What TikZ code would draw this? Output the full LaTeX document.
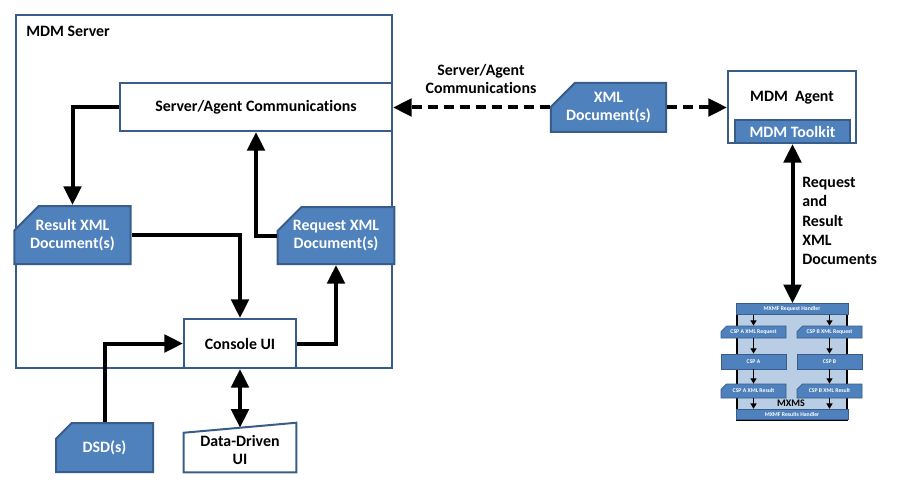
\documentclass[tikz,border=0pt]{standalone}
\usepackage{fontspec}
\setmainfont{Carlito}[Ligatures=NoCommon]
\usetikzlibrary{arrows.meta,shapes.misc}
\definecolor{docblue}{HTML}{4F81BD}
\definecolor{edgeblue}{HTML}{385D8A}
\definecolor{paleblue}{HTML}{B9CDE5}

\begin{document}
\begin{tikzpicture}[x=0.75pt, y=-0.75pt, font=\fontsize{11.9}{13.5}\selectfont\bfseries,
	boxnode/.style={draw=edgeblue, line width=1.5pt, fill=white, inner sep=0pt},
	docnode/.style={chamfered rectangle, chamfered rectangle corners=north west, chamfered rectangle xsep=12pt, chamfered rectangle ysep=6.5pt, draw=edgeblue, line width=1.5pt, fill=docblue, text=white, align=center, inner sep=0pt},
	mxbox/.style={draw=edgeblue, line width=0.6pt, fill=docblue, text=white, inner sep=0pt, font=\fontsize{4.3}{5}\selectfont\bfseries},
	mxdoc/.style={mxbox, chamfered rectangle, chamfered rectangle corners=north west, chamfered rectangle xsep=6pt, chamfered rectangle ysep=2.5pt},
	conn/.style={line width=3pt, -{Triangle[length=14pt,width=13pt]}},
	both/.style={line width=3pt, {Triangle[length=14pt,width=13pt]}-{Triangle[length=14pt,width=13pt]}},
	dashconn/.style={conn, dash pattern=on 7.5pt off 4.5pt},
	mxarrow/.style={line width=1.1pt, -{Triangle[length=4pt,width=4.5pt]}}]
	\useasboundingbox (0,0) rectangle (897,492);
	% server side
	\node (server) [boxnode, line width=2pt, minimum width=282pt, minimum height=264.75pt] at (204,191.5) {};
	\node (serverlbl) [anchor=west, inner sep=0pt] at (26,31) {MDM Server};
	\node (sac) [boxnode, minimum width=204pt, minimum height=36pt] at (256,107) {Server/Agent Communications};
	\node (result) [docnode, minimum width=84.75pt, minimum height=43.5pt] at (72.5,235) {Result XML\\Document(s)};
	\node (request) [docnode, minimum width=84pt, minimum height=42.75pt] at (336,235.5) {Request XML\\Document(s)};
	\node (console) [boxnode, minimum width=84pt, minimum height=36.75pt] at (240,343.5) {Console UI};
	\node (dsd) [docnode, minimum width=72.75pt, minimum height=36.75pt] at (104.5,447.5) {\raisebox{-3pt}{DSD(s)}};
	\node (ddui) [align=center, minimum width=84pt, minimum height=33pt, inner sep=0pt] at (240,450) {Data-Driven\\UI};
	\draw[edgeblue, line width=1.5pt] (ddui.south west) -- ([yshift=-3.75pt]ddui.north west) -- ([yshift=3.75pt]ddui.north east) -- (ddui.south east) -- cycle;
	% agent side
	\node (commlbl) [align=center] at (481,79) {Server/Agent\\Communications};
	\node (xmldoc) [docnode, minimum width=84.75pt, minimum height=36.75pt] at (608.5,107.5) {XML\\Document(s)};
	\node (agent) [boxnode, minimum width=96pt, minimum height=54pt] at (792,107) {};
	\node (agentlbl) at (792,98) {MDM\ \ Agent};
	\node (toolkit) [boxnode, fill=docblue, text=white, minimum width=86.25pt, minimum height=17.25pt] at (792.5,131.5) {MDM Toolkit};
	\node (reqreslbl) [align=left, anchor=north west, inner sep=0pt, font=\fontsize{11.9}{14.5}\selectfont\bfseries] at (802,177) {Request\\and\\Result\\XML\\Documents};
	% mxms
	\node (mxback) [draw=black, line width=0.8pt, fill=paleblue, minimum width=82.5pt, minimum height=87pt] at (792,362) {};
	\node (mxreq) [mxbox, minimum width=84pt, minimum height=8pt] at (792,309) {MXMF Request Handler};
	\node (mxres) [mxbox, minimum width=84pt, minimum height=8pt] at (792,414.5) {MXMF Results Handler};
	\node (cspareq) [mxdoc, minimum width=48.75pt, minimum height=9pt] at (753.5,332) {CSP A XML Request};
	\node (cspbreq) [mxdoc, minimum width=48.75pt, minimum height=9pt] at (829.5,332) {CSP B XML Request};
	\node (cspa) [mxbox, minimum width=48.75pt, minimum height=11.25pt] at (753.5,361.5) {CSP A};
	\node (cspb) [mxbox, minimum width=48.75pt, minimum height=11.25pt] at (829.5,361.5) {CSP B};
	\node (csparesult) [mxdoc, minimum width=48.75pt, minimum height=10.5pt] at (753.5,391) {CSP A XML Result};
	\node (cspbresult) [mxdoc, minimum width=48.75pt, minimum height=10.5pt] at (829.5,391) {CSP B XML Result};
	\node (mxmslbl) [font=\fontsize{7.5}{8}\selectfont\bfseries] at (791,403.5) {MXMS};
	\foreach \c in {a,b} {
		\draw[mxarrow] (csp\c req.north |- mxreq.south) -- (csp\c req.north);
		\draw[mxarrow] (csp\c req.south) -- (csp\c.north);
		\draw[mxarrow] (csp\c.south) -- (csp\c result.north);
		\draw[mxarrow] (csp\c result.south) -- (csp\c result.south |- mxres.north);
	}
	% connectors
	\draw[conn] (sac.west) -| (result.north);
	\draw[conn] (result.east) -| (console.north);
	\draw[conn] (console.east) -| (request.south);
	\draw[conn] (request.west) -| (sac.south);
	\draw[conn] (dsd.north) |- (console.west);
	\draw[both] (console.south) -- (ddui.north);
	\draw[dashconn] (xmldoc.west) -- (xmldoc.west -| sac.east);
	\draw[dashconn] (xmldoc.east) -- (xmldoc.east -| agent.west);
	\draw[both] (toolkit.south) -- (toolkit.south |- mxreq.north);
\end{tikzpicture}
\end{document}
